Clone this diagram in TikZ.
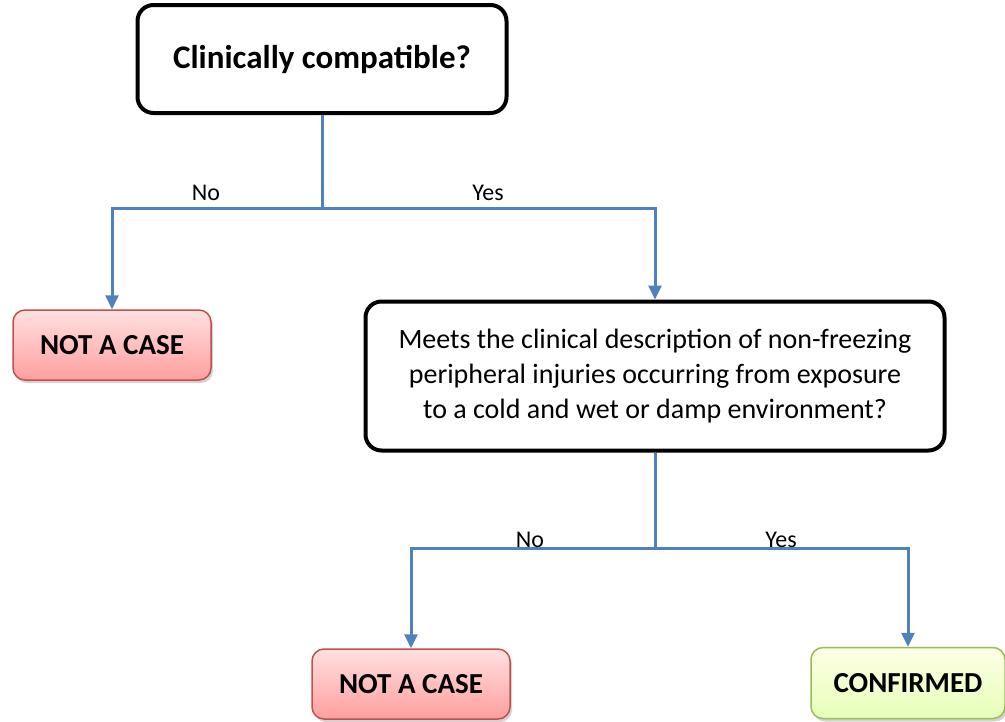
\documentclass[tikz,border=0pt]{standalone}
\usepackage{fontspec}
\setmainfont{Carlito}
\usepackage{tikz}
\usetikzlibrary{arrows.meta,shapes,shadows}
\definecolor{flowblue}{HTML}{4F81BD}
\definecolor{caseborder}{HTML}{C0504D}
\definecolor{okborder}{HTML}{9BBB59}
\tikzstyle{question}=[draw=black,line width=4pt,rounded corners=16pt,fill=white,align=center,inner sep=0pt]
\tikzstyle{outcome}=[rounded corners=12pt,line width=1.5pt,inner sep=0pt,font=\fontsize{29}{34}\selectfont\bfseries,
    drop shadow={shadow xshift=2pt,shadow yshift=-3pt,opacity=0.35}]
\tikzstyle{not case}=[outcome,draw=caseborder,top color=red!12,bottom color=red!38!white,minimum width=198pt,minimum height=70pt]
\tikzstyle{confirmed}=[outcome,draw=okborder,top color=green!6!yellow!10,bottom color=green!35!yellow!28!white,minimum width=194pt,minimum height=71pt]
\tikzstyle{flow}=[draw=flowblue,line width=3pt]
\tikzstyle{flow arrow}=[flow,-{Triangle[length=14pt,width=13pt]}]
\tikzstyle{branch}=[font=\fontsize{24}{28}\selectfont,anchor=base]

\begin{document}
\begin{tikzpicture}[x=1pt,y=-1pt]
    \useasboundingbox (0,0) rectangle (1005,721);
    % First the questions and the outcomes
    \node[question,minimum width=369pt,minimum height=108pt,font=\fontsize{33}{38}\selectfont\bfseries] (clinical) at (322,59) {Clinically compatible?};
    \node[question,minimum width=579pt,minimum height=149pt,font=\fontsize{28}{35}\selectfont] (description) at (655,376)
        {Meets the clinical description of non-freezing\\peripheral injuries occurring from exposure\\to a cold and wet or damp environment?};
    \node[not case] (notcase1) at (112,345) {NOT A CASE};
    \node[not case] (notcase2) at (411,684) {NOT A CASE};
    \node[confirmed] (confirmed) at (908,683) {CONFIRMED};

    % Junctions where the lines split
    \coordinate (split1) at (322,208);
    \coordinate (split2) at (655,548);

    % Connect them with the branches
    \path[flow] (clinical) -- (split1);
    \path[flow] (description) -- (split2);
    \foreach \source/\dest in {split1/notcase1, split1/description, split2/notcase2, split2/confirmed}
        \path[flow arrow] (\source) -| (\dest);

    % Branch labels
    \node[branch] (no1) at (206,200) {No};
    \node[branch] (yes1) at (488,200) {Yes};
    \node[branch] (no2) at (530,547) {No};
    \node[branch] (yes2) at (781,547) {Yes};
\end{tikzpicture}
\end{document}
